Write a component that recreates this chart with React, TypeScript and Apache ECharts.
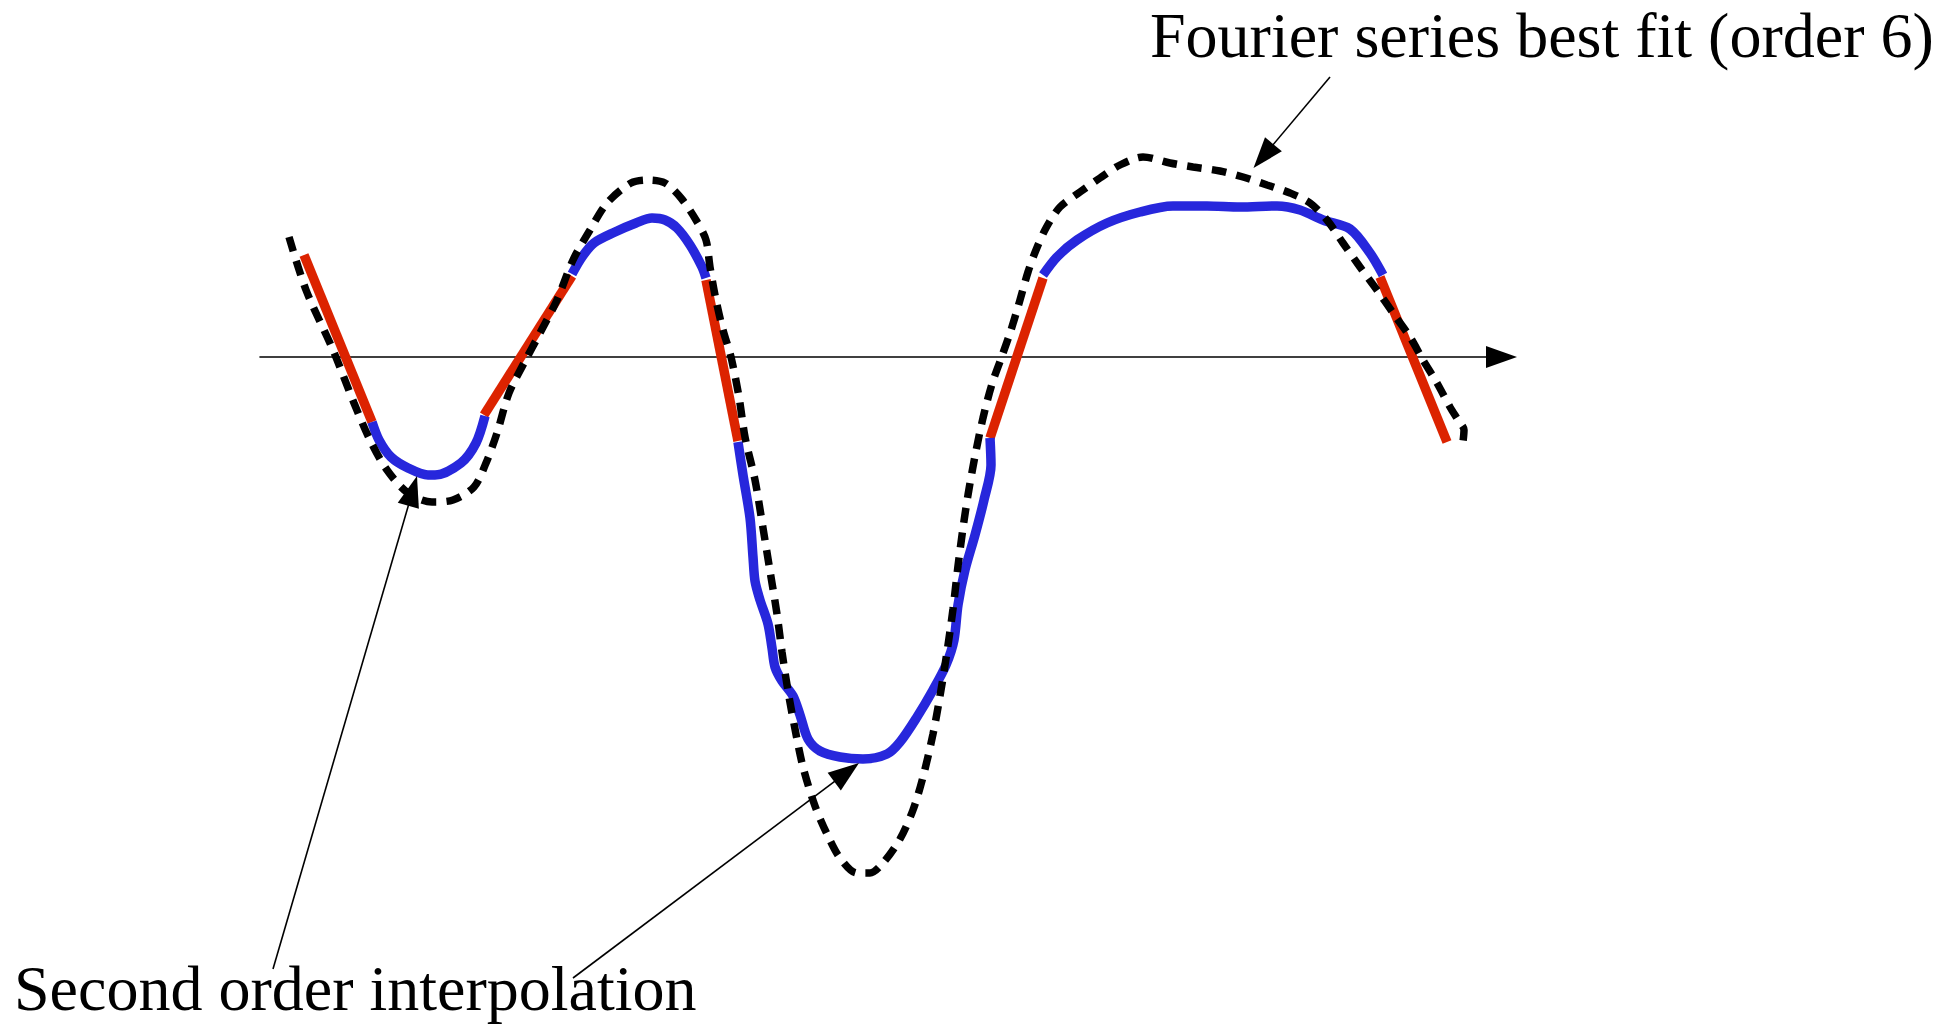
import { useEffect, useRef } from "react";
import * as echarts from "echarts";

// Plot extent in data units (one unit per pixel along both axes).
const X_MIN = 0;
const X_MAX = 1241.5;
const Y_MIN = -669;
const Y_MAX = 357;

// Sampled signal approximated by a 6th-order Fourier series (dashed curve).
const fourierFitX = [
  29, 46, 73, 94, 110, 127, 148, 172, 193, 214, 226, 237, 249, 264, 280, 297, 313, 330, 347, 371,
  388, 405, 421, 436, 446, 450, 456, 463, 471, 479, 485, 495, 503, 510, 517, 522, 528, 535, 543, 555,
  567, 580, 597, 610, 623, 640, 653, 663, 673, 680, 687, 693, 698, 703, 708, 715, 723, 732, 742, 751,
  760, 768, 776, 786, 800, 820, 840, 860, 883, 910, 933, 960, 983, 1007, 1030, 1050, 1067, 1083, 1100, 1117,
  1133, 1150, 1163, 1177, 1190, 1198, 1204, 1203,
];
const fourierFitY = [
  120, 67, 7, -46, -83, -113, -136, -145, -143, -130, -106, -76, -36, -6, 24, 57, 97, 127, 154, 174,
  177, 174, 159, 137, 117, 90, 57, 27, 0, -40, -80, -123, -171, -214, -257, -295, -334, -372, -410, -449,
  -477, -501, -516, -516, -506, -482, -453, -420, -377, -339, -295, -252, -209, -171, -138, -99, -61, -27, 1, 27,
  57, 85, 107, 129, 150, 165, 179, 192, 200, 194, 190, 186, 180, 172, 164, 154, 137, 114, 90, 67,
  44, 20, -3, -26, -50, -63, -73, -85,
];

// Second order interpolation: straight (red) pieces around the zero crossings.
const linearPieceX = [
  [44, 112],
  [224, 312],
  [446, 478],
  [730, 783],
  [1120, 1187],
];
const linearPieceY = [
  [102, -65],
  [-58, 81],
  [77, -84],
  [-81, 79],
  [80, -85],
];

// Second order interpolation: curved (blue) pieces around the extrema.
const curvedPieceX = [
  [112, 119, 131, 148, 168, 175, 201, 216, 225],
  [312, 322, 334, 355, 376, 392, 405, 417, 430, 442, 446],
  [478, 483, 490, 493, 495, 500, 508, 512, 515, 522, 533, 540, 548, 560, 580, 603, 627, 640, 657, 673, 686, 694, 698, 705, 715, 724, 731, 730],
  [783, 797, 817, 847, 880, 913, 947, 980, 1017, 1040, 1063, 1090, 1110, 1123],
];
const curvedPieceY = [
  [-65, -83, -100, -111, -118, -118, -106, -86, -59],
  [83, 100, 114, 125, 134, 139, 137, 129, 112, 90, 79],
  [-85, -118, -161, -200, -224, -243, -267, -291, -310, -324, -339, -358, -382, -394, -400, -402, -397, -385, -360, -333, -308, -283, -248, -213, -178, -143, -108, -81],
  [82, 100, 117, 134, 145, 151, 151, 150, 151, 147, 137, 128, 104, 82],
];

// Callout arrows: tail point and arrow tip, in data units.
const calloutTail: [number, number][] = [
  [13, -612],
  [313, -621],
  [1070, 280],
];
const calloutTip: [number, number][] = [
  [157, -119],
  [599, -406],
  [993.5, 189],
];

const labelTexts = ["Fourier series best fit (order 6)", "Second order interpolation"];

const RED = "#dc2300";
const BLUE = "#2727dc";
const HEAD_LEN = 31;
const HEAD_WIDTH = 22;

function zip(xs: number[], ys: number[]): [number, number][] {
  return xs.map((x, i) => [x, ys[i]]);
}

// The triangle symbol is centred on the line end; pull the end back by half
// the head length so the point of the head lands on the tip.
function shortenToHead(tail: [number, number], tip: [number, number]): [number, number] {
  const dx = tip[0] - tail[0];
  const dy = tip[1] - tail[1];
  const len = Math.hypot(dx, dy);
  const k = HEAD_LEN / 2 / len;
  return [tip[0] - dx * k, tip[1] - dy * k];
}

export default function App() {
  const ref = useRef<HTMLDivElement>(null);

  useEffect(() => {
    if (!ref.current) return;
    const chart = echarts.init(ref.current, null, { renderer: "svg" });

    const linearSeries = linearPieceX.map((xs, i) => ({
      type: "line" as const,
      data: zip(xs, linearPieceY[i]),
      showSymbol: false,
      silent: true,
      z: 2,
      lineStyle: { color: RED, width: 9.5, cap: "butt" as const },
    }));

    const curvedSeries = curvedPieceX.map((xs, i) => ({
      type: "line" as const,
      data: zip(xs, curvedPieceY[i]),
      smooth: 0.3,
      showSymbol: false,
      silent: true,
      z: 2,
      lineStyle: { color: BLUE, width: 9.5, cap: "butt" as const, join: "round" as const },
    }));

    const option = {
      animation: false,
      backgroundColor: "#ffffff",
      grid: { left: 260, right: 1960 - 260 - X_MAX, top: 0, bottom: 0, containLabel: false },
      xAxis: {
        type: "value",
        min: X_MIN,
        max: X_MAX,
        axisLine: {
          show: true,
          onZero: true,
          symbol: ["none", "triangle"],
          symbolSize: [HEAD_WIDTH, HEAD_LEN],
          lineStyle: { color: "#000", width: 1.6 },
        },
        axisTick: { show: false },
        axisLabel: { show: false },
        splitLine: { show: false },
      },
      yAxis: {
        type: "value",
        min: Y_MIN,
        max: Y_MAX,
        show: false,
        splitLine: { show: false },
      },
      series: [
        ...linearSeries,
        ...curvedSeries,
        {
          type: "line",
          name: "Fourier series best fit (order 6)",
          data: zip(fourierFitX, fourierFitY),
          smooth: 0.3,
          showSymbol: false,
          silent: true,
          z: 3,
          lineStyle: { color: "#000", width: 7.5, type: [15, 10], cap: "butt" },
          markLine: {
            silent: true,
            symbol: ["none", "triangle"],
            symbolSize: [HEAD_WIDTH, HEAD_LEN],
            label: { show: false },
            lineStyle: { color: "#000", width: 1.6, type: "solid" },
            itemStyle: { color: "#000" },
            data: calloutTail.map((tail, i) => [
              { coord: tail },
              { coord: shortenToHead(tail, calloutTip[i]) },
            ]),
          },
        },
      ],
      graphic: [
        {
          type: "text",
          x: 1150,
          y: 3,
          silent: true,
          style: {
            text: labelTexts[0],
            font: '64px "Liberation Serif"',
            fill: "#000",
          },
        },
        {
          type: "text",
          x: 14,
          y: 956,
          silent: true,
          style: {
            text: labelTexts[1],
            font: '64px "Liberation Serif"',
            fill: "#000",
          },
        },
      ],
    };

    chart.setOption(option as any);
    return () => chart.dispose();
  }, []);

  return (
    <div
      ref={ref}
      style={{ position: "fixed", left: 0, top: 0, width: 1960, height: 1026, background: "#fff" }}
    />
  );
}
